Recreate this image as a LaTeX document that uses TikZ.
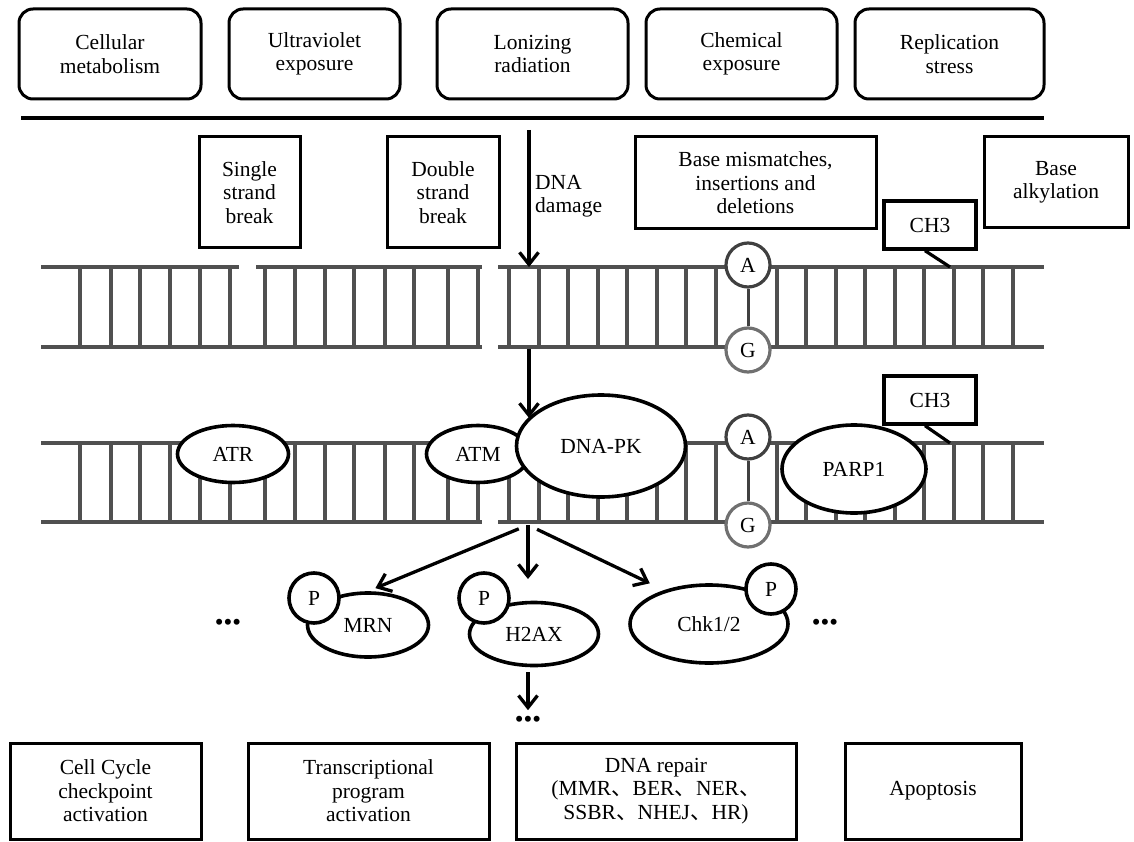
\documentclass[tikz,border=0pt]{standalone}
\usepackage{fontspec}
\setmainfont{Liberation Serif}
\newfontfamily\cjk{Noto Sans CJK SC}
\usetikzlibrary{positioning,arrows.meta,shapes.geometric}
\newcommand{\dun}{{\cjk 、}}
\definecolor{strandgray}{HTML}{505050}
\definecolor{agray}{HTML}{404040}
\definecolor{ggray}{HTML}{707070}

\begin{document}
\begin{tikzpicture}[
    x=1pt, y=-1pt,
    every node/.style={font=\fontsize{21.5}{23.5}\selectfont},
    cause/.style={
        draw, line width=3pt, rounded corners=14pt, align=center, minimum height=90pt,
    },
    damage/.style={
        draw, line width=3pt, align=center, inner sep=2pt,
    },
    outcome/.style={
        draw, line width=3pt, align=center, minimum height=96pt,
    },
    strand/.style={line width=4.5pt, draw=strandgray},
    rung/.style={line width=3.5pt, draw=strandgray},
    nt_base/.style={
        circle, draw, line width=3.2pt, fill=white, inner sep=0pt, minimum size=44pt,
    },
    prot/.style={
        ellipse, draw, line width=3.6pt, fill=white, inner sep=0pt,
    },
    phos/.style={
        circle, draw, line width=3.6pt, fill=white, inner sep=0pt, minimum size=50pt,
    },
    methyl/.style={
        draw, line width=3.4pt, fill=white, minimum width=92pt, minimum height=48pt,
    },
    arrow/.style={
        -{Straight Barb[length=12pt,width=19pt]}, line width=3.3pt,
    },
    ellip/.style={inner sep=0pt, font=\fontsize{25}{25}\selectfont}
]
    \useasboundingbox (0,0) rectangle (1134,842);

    % sources of damage
    \node[cause, minimum width=182pt] (cellm) at (110,54) {Cellular\\metabolism};
    \node[cause, minimum width=171pt] (uv) at (314.5,54) {Ultraviolet\\exposure};
    \node[cause, minimum width=191pt] (ion) at (532.5,54) {Lonizing\\radiation};
    \node[cause, minimum width=191pt] (chem) at (741.5,54) {Chemical\\exposure};
    \node[cause, minimum width=189pt] (repl) at (949.5,54) {Replication\\stress};

    \coordinate (sepl) at (21,118);
    \coordinate (sepr) at (1044,118);
    \draw[line width=4.5pt] (sepl) -- (sepr);

    % kinds of damage
    \node[damage, minimum width=101pt, minimum height=111pt] (ssb) at (249.5,192.5) {Single\\strand\\break};
    \node[damage, minimum width=112pt, minimum height=111pt] (dsb) at (443,192.5) {Double\\strand\\break};
    \node[damage, minimum width=241pt, minimum height=92pt] (mism) at (755.5,183) {Base mismatches,\\insertions and\\deletions};
    \node[damage, minimum width=144pt, minimum height=91pt] (alky) at (1056,182.5) {Base\\alkylation};

    \coordinate (dmgtop) at (529,130);
    \coordinate (dsbsite) at (529,267);
    \node[right, align=left, inner sep=2pt] (dmglbl) at (533,196) {DNA\\damage};

    % two DNA ladders
    \draw[strand] (41,267) -- (239,267);
    \draw[strand] (256,267) -- (482,267);
    \draw[strand] (498,267) -- (1044,267);
    \draw[strand] (41,347) -- (482,347);
    \draw[strand] (498,347) -- (1044,347);
    \draw[strand] (41,443) -- (482,443);
    \draw[strand] (498,443) -- (1044,443);
    \draw[strand] (41,522) -- (482,522);
    \draw[strand] (498,522) -- (1044,522);
    \foreach \ty/\by in {267/347,443/522}
        \foreach \x in {80,111,140,170,200,230,265,295,325,354,385,414,448,478,
                        509,539,568,598,627,657,686,716,777,806,836,865,895,924,954,983,1013}
            \draw[rung] (\x,\ty) -- (\x,\by);

    \node[nt_base, draw=agray] (a1) at (748,265) {A};
    \node[nt_base, draw=ggray] (g1) at (748,350) {G};
    \node[nt_base, draw=agray] (a2) at (748,437) {A};
    \node[nt_base, draw=ggray] (g2) at (748,525) {G};
    \draw[line width=3pt, draw=agray] (a1) -- (g1);
    \draw[line width=3pt, draw=agray] (a2) -- (g2);

    \node[methyl] (ch3a) at (930,225) {CH3};
    \node[methyl] (ch3b) at (930,400) {CH3};
    \coordinate (mtipa) at (950,267);
    \coordinate (mtipb) at (950,443);
    \draw[line width=3.2pt] ([xshift=-5pt]ch3a.south) -- (mtipa);
    \draw[line width=3.2pt] ([xshift=-5pt]ch3b.south) -- (mtipb);

    % sensors
    \node[prot, minimum width=111pt, minimum height=57pt] (atr) at (233,454) {ATR};
    \node[prot, minimum width=103pt, minimum height=57pt] (atm) at (478,454) {ATM};
    \node[prot, minimum width=169pt, minimum height=102pt] (dnapk) at (601,446) {DNA-PK};
    \node[prot, minimum width=144pt, minimum height=88pt] (parp) at (854,469) {PARP1};

    \draw[arrow] (dmgtop) -- (dsbsite);
    \coordinate (dsbb) at (529,349);
    \draw[arrow] (dsbb) -- (dsbb |- dnapk.159);

    % phosphorylated targets
    \node[prot, minimum width=121pt, minimum height=64pt] (mrn) at (368,625) {MRN};
    \node[phos] (pmrn) at (314,598) {P};
    \node[prot, minimum width=129pt, minimum height=63pt] (h2ax) at (534,634) {H2AX};
    \node[phos] (ph2ax) at (484,598) {P};
    \node[prot, minimum width=158pt, minimum height=78pt] (chk) at (709,624) {Chk1/2};
    \node[phos] (pchk) at (771,589) {P};

    \node[ellip] (dotsl) at (228,625) {\textbullet\textbullet\textbullet};
    \node[ellip] (dotsr) at (825,625) {\textbullet\textbullet\textbullet};
    \node[ellip] (dotsd) at (528,722) {\textbullet\textbullet\textbullet};

    \coordinate (src) at (528,525);
    \draw[arrow, shorten <=10pt, shorten >=8pt] (src) -- (mrn.north);
    \draw[arrow] (src) -- (src |- ph2ax.north east);
    \draw[arrow, shorten <=10pt] (src) -- ([shift={(-6,-10)}]chk.150);
    \draw[arrow] ([yshift=-5pt]h2ax.south -| dotsd) -- ([yshift=6pt]dotsd.north);

    % outcomes
    \node[outcome, minimum width=191pt] (ckpt) at (105.5,791) {Cell Cycle\\checkpoint\\activation};
    \node[outcome, minimum width=241pt] (trans) at (368.5,791) {Transcriptional\\program\\activation};
    \node[outcome, minimum width=280pt] (repair) at (656,791) {DNA repair\\(MMR\dun BER\dun NER\dun\\SSBR\dun NHEJ\dun HR)};
    \node[outcome, minimum width=176pt] (apop) at (933,791) {Apoptosis};
\end{tikzpicture}
\end{document}
